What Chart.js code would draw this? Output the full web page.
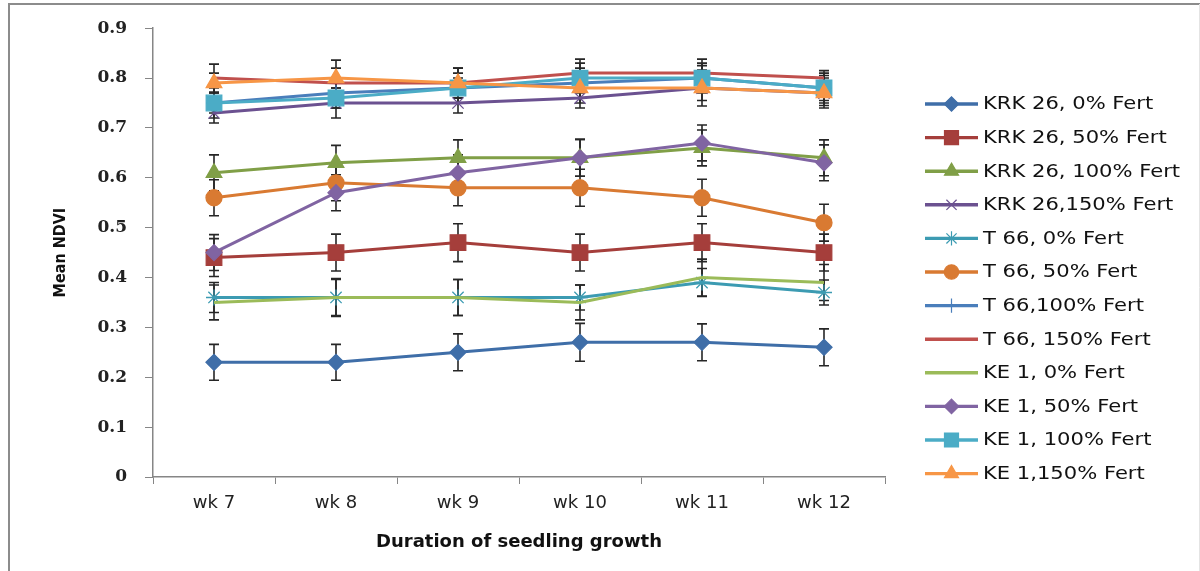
<!DOCTYPE html>
<html>
<head>
<meta charset="utf-8">
<title>Mean NDVI</title>
<script src="https://cdn.jsdelivr.net/npm/chart.js@4.4.0/dist/chart.umd.min.js"></script>
<style>
  html, body { margin: 0; padding: 0; background: #fff; }
  #wrap { position: relative; width: 1200px; height: 571px; }
</style>
</head>
<body>
<div id="wrap"><canvas id="ndvi-chart"></canvas></div>
<script>
// Weeks on the x axis
const weeks = ['wk 7', 'wk 8', 'wk 9', 'wk 10', 'wk 11', 'wk 12'];

// Mean NDVI per treatment
const krk26_0   = [0.23, 0.23, 0.25, 0.27, 0.27, 0.26];
const krk26_50  = [0.44, 0.45, 0.47, 0.45, 0.47, 0.45];
const krk26_100 = [0.61, 0.63, 0.64, 0.64, 0.66, 0.64];
const krk26_150 = [0.73, 0.75, 0.75, 0.76, 0.78, 0.77];
const t66_0     = [0.36, 0.36, 0.36, 0.36, 0.39, 0.37];
const t66_50    = [0.56, 0.59, 0.58, 0.58, 0.56, 0.51];
const t66_100   = [0.75, 0.77, 0.78, 0.79, 0.80, 0.78];
const t66_150   = [0.80, 0.79, 0.79, 0.81, 0.81, 0.80];
const ke1_0     = [0.35, 0.36, 0.36, 0.35, 0.40, 0.39];
const ke1_50    = [0.45, 0.57, 0.61, 0.64, 0.67, 0.63];
const ke1_100   = [0.75, 0.76, 0.78, 0.80, 0.80, 0.78];
const ke1_150   = [0.79, 0.80, 0.79, 0.78, 0.78, 0.77];

// Error bar half-lengths
const errKrk26_0   = [0.036, 0.036, 0.037, 0.038, 0.037, 0.037];
const errKrk26_50  = [0.038, 0.037, 0.038, 0.037, 0.038, 0.037];
const errKrk26_100 = [0.036, 0.035, 0.036, 0.037, 0.036, 0.036];
const errKrk26_150 = [0.020, 0.030, 0.020, 0.020, 0.025, 0.025];
const errT66_0     = [0.030, 0.038, 0.036, 0.025, 0.028, 0.025];
const errT66_50    = [0.036, 0.036, 0.036, 0.037, 0.037, 0.037];
const errT66_100   = [0.030, 0.030, 0.030, 0.030, 0.025, 0.030];
const errT66_150   = [0.028, 0.030, 0.030, 0.028, 0.028, 0.015];
const errKe1_0     = [0.035, 0.036, 0.036, 0.035, 0.037, 0.036];
const errKe1_50    = [0.036, 0.036, 0.036, 0.037, 0.036, 0.036];
const errKe1_100   = [0.020, 0.020, 0.020, 0.030, 0.030, 0.025];
const errKe1_150   = [0.020, 0.036, 0.030, 0.030, 0.036, 0.030];

const seriesLabels = [
  'KRK 26, 0% Fert', 'KRK 26, 50% Fert', 'KRK 26, 100% Fert', 'KRK 26,150% Fert',
  'T 66, 0% Fert', 'T 66, 50% Fert', 'T 66,100% Fert', 'T 66, 150% Fert',
  'KE 1, 0% Fert', 'KE 1, 50% Fert', 'KE 1, 100% Fert', 'KE 1,150% Fert'
];
const seriesValues = [krk26_0, krk26_50, krk26_100, krk26_150, t66_0, t66_50,
  t66_100, t66_150, ke1_0, ke1_50, ke1_100, ke1_150];
const seriesErrors = [errKrk26_0, errKrk26_50, errKrk26_100, errKrk26_150, errT66_0, errT66_50,
  errT66_100, errT66_150, errKe1_0, errKe1_50, errKe1_100, errKe1_150];

// Excel 2007 style colours and markers
const seriesColors = ['#3f6ea8', '#a53e3b', '#809f47', '#6b5190', '#3c9bb2', '#d97a32',
  '#4a7ebb', '#c0504d', '#9bbb59', '#8064a2', '#4bacc6', '#f79646'];
const seriesMarkers = ['rectRot', 'rect', 'triangle', 'crossRot', 'star', 'circle',
  'cross', false, false, 'rectRot', 'rect', 'triangle'];
const markerSizes = [8, 11, 9, 8, 8, 8, 8, 0, 0, 8, 11, 9];

/**
 * Vertical error bars, drawn under the lines
 */
const errorBarPlugin = {
  id: 'errorBars',
  beforeDatasetsDraw(chart) {
    const { ctx, scales: { x, y } } = chart;
    ctx.save();
    ctx.strokeStyle = '#262626';
    ctx.lineWidth = 1.6;
    chart.data.datasets.forEach(ds => {
      if (!ds.errors) return;
      ds.data.forEach((v, j) => {
        const px = x.getPixelForValue(j);
        const top = y.getPixelForValue(v + ds.errors[j]);
        const bot = y.getPixelForValue(v - ds.errors[j]);
        ctx.beginPath();
        ctx.moveTo(px, top); ctx.lineTo(px, bot);
        ctx.moveTo(px - 5, top); ctx.lineTo(px + 5, top);
        ctx.moveTo(px - 5, bot); ctx.lineTo(px + 5, bot);
        ctx.stroke();
      });
    });
    ctx.restore();
  }
};

/**
 * Excel-like legend on the right: line sample with marker, then text
 */
const sideLegendPlugin = {
  id: 'sideLegend',
  afterDraw(chart) {
    const ctx = chart.ctx;
    const x0 = chart.chartArea.right + 40;
    const x1 = x0 + 53;
    ctx.save();
    chart.data.datasets.forEach((ds, i) => {
      const y = 104 + i * 33.6;
      ctx.strokeStyle = ds.borderColor;
      ctx.lineWidth = 3.4;
      ctx.beginPath();
      ctx.moveTo(x0, y);
      ctx.lineTo(x1, y);
      ctx.stroke();
      if (ds.pointStyle) {
        ctx.fillStyle = ds.borderColor;
        ctx.lineWidth = 1.2;
        Chart.helpers.drawPoint(ctx, {
          pointStyle: ds.pointStyle,
          radius: ds.pointRadius * 0.9,
          rotation: 0,
          borderWidth: 1.2
        }, (x0 + x1) / 2, y);
      }
      ctx.fillStyle = '#111';
      ctx.font = '17px "DejaVu Sans"';
      ctx.textBaseline = 'middle';
      ctx.translate(x1 + 5, y);
      ctx.scale(1.24, 1);
      ctx.fillText(ds.label, 0, 1);
      ctx.setTransform(1, 0, 0, 1, 0, 0);
    });
    ctx.restore();
  }
};

/**
 * White page with the grey frame of the original figure (left and top edges)
 */
const framePlugin = {
  id: 'frame',
  beforeDraw(chart) {
    const ctx = chart.ctx;
    ctx.save();
    ctx.fillStyle = '#fff';
    ctx.fillRect(0, 0, chart.width, chart.height);
    ctx.strokeStyle = '#8c8c8c';
    ctx.lineWidth = 2;
    ctx.beginPath();
    ctx.moveTo(9, chart.height);
    ctx.lineTo(9, 4);
    ctx.lineTo(chart.width, 4);
    ctx.stroke();
    ctx.strokeStyle = '#e4e4e4';
    ctx.lineWidth = 1;
    ctx.beginPath();
    ctx.moveTo(chart.width - 0.5, 4);
    ctx.lineTo(chart.width - 0.5, chart.height);
    ctx.stroke();
    ctx.restore();
  }
};

const datasets = seriesLabels.map((label, i) => ({
  label: label,
  data: seriesValues[i],
  errors: seriesErrors[i],
  borderColor: seriesColors[i],
  backgroundColor: seriesColors[i],
  pointBackgroundColor: seriesColors[i],
  pointBorderColor: seriesColors[i],
  pointStyle: seriesMarkers[i],
  pointRadius: markerSizes[i],
  pointBorderWidth: 1.3,
  borderWidth: 3,
  tension: 0,
  fill: false,
  order: seriesLabels.length - i
}));

const ctx = document.getElementById('ndvi-chart').getContext('2d');
new Chart(ctx, {
  type: 'line',
  data: { labels: weeks, datasets: datasets },
  plugins: [framePlugin, errorBarPlugin, sideLegendPlugin],
  options: {
    responsive: true,
    maintainAspectRatio: false,
    animation: false,
    layout: { padding: { left: 0, right: 315, top: 24, bottom: 0 } },
    plugins: {
      legend: { display: false },
      tooltip: { enabled: false }
    },
    scales: {
      x: {
        offset: true,
        afterFit: scale => { scale.height = 94; },
        grid: {
          offset: true,
          drawOnChartArea: false,
          tickLength: 7,
          color: '#868686'
        },
        border: { color: '#868686', width: 1.5 },
        ticks: {
          color: '#222',
          padding: 9,
          font: { family: '"DejaVu Sans"', size: 18 }
        },
        title: {
          display: true,
          text: 'Duration of seedling growth',
          color: '#111',
          font: { family: '"DejaVu Sans"', size: 18, weight: 'bold' },
          padding: { top: 0, bottom: 18 }
        }
      },
      y: {
        min: 0,
        max: 0.9,
        afterFit: scale => { scale.width = 153; },
        grid: {
          drawOnChartArea: false,
          tickLength: 8,
          color: '#868686'
        },
        border: { color: '#868686', width: 1.5 },
        ticks: {
          stepSize: 0.1,
          color: '#222',
          padding: 18,
          font: { family: '"DejaVu Serif"', size: 17, weight: 'bold' },
          callback: v => String(Math.round(v * 10) / 10)
        },
        title: {
          display: true,
          text: 'Mean NDVI',
          color: '#111',
          font: { family: '"DejaVu Sans Condensed", "DejaVu Sans"', size: 16, weight: 'bold' },
          padding: { top: 51, bottom: 0 }
        }
      }
    }
  }
});
</script>
</body>
</html>
